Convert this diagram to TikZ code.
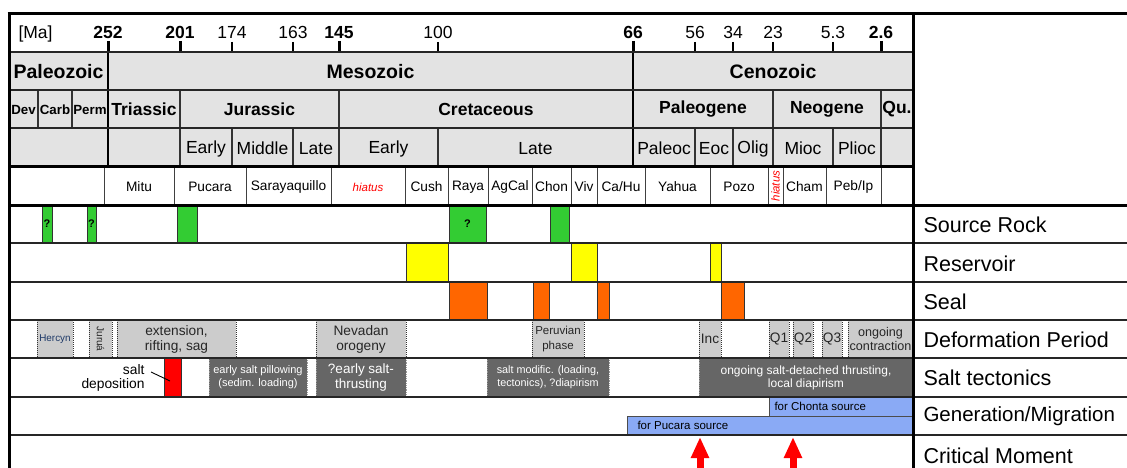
\documentclass[tikz,border=0pt]{standalone}
\usepackage{fontspec}
\setmainfont{Liberation Sans}
\usetikzlibrary{arrows.meta}
\definecolor{headgray}{HTML}{E3E3E3}
\definecolor{defgray}{HTML}{CCCCCC}
\definecolor{saltgray}{HTML}{666666}
\definecolor{srcgreen}{HTML}{33CC33}
\definecolor{resyellow}{HTML}{FFFF00}
\definecolor{sealorange}{HTML}{FF6600}
\definecolor{genblue}{HTML}{8AAAF5}
\definecolor{hercblue}{HTML}{1F3A68}
\newcommand\fs[2]{\fontsize{#1pt}{#2pt}\selectfont}
\begin{document}
\begin{tikzpicture}[x=1pt,y=-1pt,
  rowline/.style={line width=1.8pt, draw=black!85},
  thickline/.style={line width=3pt, draw=black},
  divline/.style={line width=1.5pt, draw=black!80},
  bigdiv/.style={line width=2.6pt, draw=black},
  fdiv/.style={line width=1pt, draw=black!75},
  numtxt/.style={anchor=base, font=\fs{17.5}{20}},
  boldnum/.style={anchor=base, font=\fs{17.5}{20}\bfseries},
  eratxt/.style={font=\fs{19.5}{22}\bfseries},
  pertxt/.style={font=\fs{17.5}{20}\bfseries},
  smallper/.style={font=\fs{13.3}{15}\bfseries},
  eptxt/.style={font=\fs{17.5}{20}},
  fmtxt/.style={font=\fs{13.7}{16}},
  hiattxt/.style={font=\fs{11.5}{13}\itshape, text=red},
  colbox/.style={draw=black!80, line width=1pt},
  dotedge/.style={densely dotted, line width=1pt, draw=black!80},
  deftxt/.style={font=\fs{13.7}{15}, text=black!85, align=center},
  salttxt/.style={text=white, align=center},
  genbox/.style={fill=genblue, draw=black!70, line width=1pt},
  gentxt/.style={font=\fs{11.5}{13}, anchor=west},
  labtxt/.style={font=\fs{21.5}{24}, anchor=west},
  qmark/.style={font=\fs{11}{12}\bfseries},
  cmarrow/.style={red, line width=7pt, -{Triangle[width=17pt,length=21pt]}}
]
\useasboundingbox (0,0) rectangle (1127,468);
\fill[white] (0,0) rectangle (1127,468);
\fill[headgray] (9,52) rectangle (913,166);

% ---------- time scale ----------
\node[anchor=base west, font=\fs{17.5}{20}] (ma) at (15,39) {[Ma]};
\foreach \x/\t [count=\i] in {108/252, 180/201, 339/145, 633/66, 881/2.6} {
  \node[boldnum] (bn\i) at (\x,39) {\t};
  \draw[line width=3pt] (\x,41) -- (\x,52);
}
\foreach \x/\t [count=\i] in {232/174, 293/163, 438/100, 695/56, 733/34, 773/23, 833/5.3} {
  \node[numtxt] (tn\i) at (\x,39) {\t};
  \draw[line width=1.5pt] (\x,42) -- (\x,52);
}

% ---------- eras ----------
\node[eratxt] (paleo) at (58.5,71.5) {Paleozoic};
\node[eratxt] (meso) at (370.5,71.5) {Mesozoic};
\node[eratxt] (ceno) at (773,71.5) {Cenozoic};

% ---------- periods ----------
\node[smallper] (dev) at (23.5,109.5) {Dev};
\node[smallper] (carb) at (55,109.5) {Carb};
\node[smallper] (perm) at (90,109.5) {Perm};
\node[pertxt] (tri) at (144,109.5) {Triassic};
\node[pertxt] (jur) at (259.5,109.5) {Jurassic};
\node[pertxt] (cre) at (486,109.5) {Cretaceous};
\node[pertxt] (pg) at (703,109.5) {Paleogene};
\node[pertxt] (ng) at (827,109.5) {Neogene};
\node[pertxt] (qu) at (897,109.5) {Qu.};

% ---------- epochs ----------
\node[eptxt] (e1) at (206,148.5) {Early};
\node[eptxt] (e2) at (262.5,148.5) {Middle};
\node[eptxt] (e3) at (316,148.5) {Late};
\node[eptxt] (e4) at (388.5,148.5) {Early};
\node[eptxt] (e5) at (535.5,148.5) {Late};
\node[eptxt] (e6) at (664,148.5) {Paleoc};
\node[eptxt] (e7) at (714,148.5) {Eoc};
\node[eptxt] (e8) at (753,148.5) {Olig};
\node[eptxt] (e9) at (803,148.5) {Mioc};
\node[eptxt] (e10) at (857,148.5) {Plioc};

% header dividers
\foreach \x in {108,633} \draw[bigdiv] (\x,52) -- (\x,166);
\foreach \x in {38,72} \draw[divline] (\x,90) -- (\x,128);
\foreach \x in {180,339,773,881} \draw[divline] (\x,90) -- (\x,166);
\foreach \x in {232,293,438,695,733,833} \draw[divline] (\x,128) -- (\x,166);

% ---------- formations ----------
\foreach \x in {104,174,246,331,405,448,488,532,571,597,645,710,768,783,826,881}
  \draw[fdiv] (\x,166) -- (\x,205);
\node[fmtxt] (f1) at (139,187) {Mitu};
\node[fmtxt] (f2) at (210,187) {Pucara};
\node[fmtxt] (f3) at (288.5,187) {Sarayaquillo};
\node[hiattxt] (f4) at (368,187) {hiatus};
\node[fmtxt] (f5) at (426.5,187) {Cush};
\node[fmtxt] (f6) at (468,187) {Raya};
\node[fmtxt] (f7) at (510,187) {AgCal};
\node[fmtxt] (f8) at (551.5,187) {Chon};
\node[fmtxt] (f9) at (584,187) {Viv};
\node[fmtxt] (f10) at (621,187) {Ca/Hu};
\node[fmtxt] (f11) at (677.5,187) {Yahua};
\node[fmtxt] (f12) at (739,187) {Pozo};
\node[hiattxt, rotate=90] (f13) at (775.5,186) {hiatus};
\node[fmtxt] (f14) at (804.5,187) {Cham};
\node[fmtxt] (f15) at (853.5,187) {Peb/Ip};

% ---------- source rock ----------
\foreach \a/\b in {42/52, 87/96, 177/197, 449/486, 550/569}
  \draw[colbox, fill=srcgreen] (\a,205) rectangle (\b,243);
\node[qmark] (q1) at (47,224) {?};
\node[qmark] (q2) at (91.5,224) {?};
\node[qmark] (q3) at (467.5,224) {?};

% ---------- reservoir ----------
\foreach \a/\b in {406/448, 571/597, 710/721}
  \draw[colbox, fill=resyellow] (\a,243) rectangle (\b,282);

% ---------- seal ----------
\foreach \a/\b in {449/487, 533/549, 597/609, 721/744}
  \draw[colbox, fill=sealorange] (\a,282) rectangle (\b,320);

% ---------- deformation ----------
\foreach \a/\b in {37/73, 89/112, 117/236, 316/406, 532/584, 699/721, 769/789, 793/813, 822/842, 848/913} {
  \fill[defgray] (\a,320) rectangle (\b,358);
  \draw[dotedge] (\a,320) -- (\a,358);
  \draw[dotedge] (\b,320) -- (\b,358);
}
\node[font=\fs{9.9}{11}, text=hercblue] (d1) at (55,339) {Hercyn};
\node[font=\fs{10}{11}, text=black!85, rotate=-90] (d2) at (100.5,339) {Juruá};
\node[deftxt] (d3) at (176.5,339) {extension,\\rifting, sag};
\node[deftxt] (d4) at (361,339) {Nevadan\\orogeny};
\node[deftxt, font=\fs{11.5}{15}] (d5) at (558,339) {Peruvian\\phase};
\node[deftxt] (d6) at (710,339) {Inc};
\node[deftxt] (d7) at (779,339) {Q1};
\node[deftxt] (d8) at (803,339) {Q2};
\node[deftxt] (d9) at (832,339) {Q3};
\node[deftxt, font=\fs{12.6}{14}] (d10) at (880.5,339) {ongoing\\contraction};

% ---------- salt tectonics ----------
\draw[colbox, fill=red] (164,358) rectangle (181,397);
\foreach \a/\b in {209/307, 316/406, 487/609, 699/913} {
  \fill[saltgray] (\a,358) rectangle (\b,397);
  \draw[densely dotted, line width=0.8pt, draw=black!40] (\a,358) -- (\a,397);
  \draw[densely dotted, line width=0.8pt, draw=black!40] (\b,358) -- (\b,397);
}
\node[font=\fs{13.8}{14}, align=right, anchor=east] (saltlbl) at (148,378) {salt\\deposition};
\coordinate (leadA) at (151,372);
\coordinate (leadB) at (170,381);
\draw[line width=0.9pt] (leadA) -- (leadB);
\node[salttxt, font=\fs{11}{13}] (s1) at (258,377.5) {early salt pillowing\\(sedim. loading)};
\node[salttxt, font=\fs{13.5}{15}] (s2) at (361,377.5) {?early salt-\\thrusting};
\node[salttxt, font=\fs{10.8}{13}] (s3) at (548,377.5) {salt modific. (loading,\\tectonics), ?diapirism};
\node[salttxt, font=\fs{12}{13}] (s4) at (806,377.5) {ongoing salt-detached thrusting,\\local diapirism};

% ---------- generation / migration ----------
\draw[genbox] (769,397) rectangle (913,416);
\draw[genbox] (627,416) rectangle (913,435);
\node[gentxt] (g1) at (771,406.5) {for Chonta source};
\node[gentxt] (g2) at (634,425.5) {for Pucara source};

% ---------- critical moment ----------
\coordinate (a1s) at (700,475);
\coordinate (a1t) at (700,437);
\coordinate (a2s) at (793,475);
\coordinate (a2t) at (793,437);
\draw[cmarrow] (a1s) -- (a1t);
\draw[cmarrow] (a2s) -- (a2t);

% ---------- row lines ----------
\foreach \y in {52,90,128} \draw[rowline] (9,\y) -- (913,\y);
\draw[thickline] (9,166) -- (913,166);
\draw[thickline] (9,205) -- (1127,205);
\foreach \y in {243,282,320,358,397,435} \draw[rowline] (9,\y) -- (1127,\y);

% ---------- frame ----------
\draw[thickline] (7.5,14) -- (1127,14);
\draw[thickline] (9,14) -- (9,470);
\draw[thickline] (913,14) -- (913,470);

% ---------- row labels ----------
\node[labtxt] (l1) at (920,225) {Source Rock};
\node[labtxt] (l2) at (920,263.5) {Reservoir};
\node[labtxt] (l3) at (920,301.5) {Seal};
\node[labtxt] (l4) at (920,339.5) {Deformation Period};
\node[labtxt] (l5) at (920,378) {Salt tectonics};
\node[labtxt, font=\fs{20.5}{24}] (l6) at (920,416.5) {Generation/Migration};
\node[labtxt] (l7) at (920,455.5) {Critical Moment};
\end{tikzpicture}
\end{document}
